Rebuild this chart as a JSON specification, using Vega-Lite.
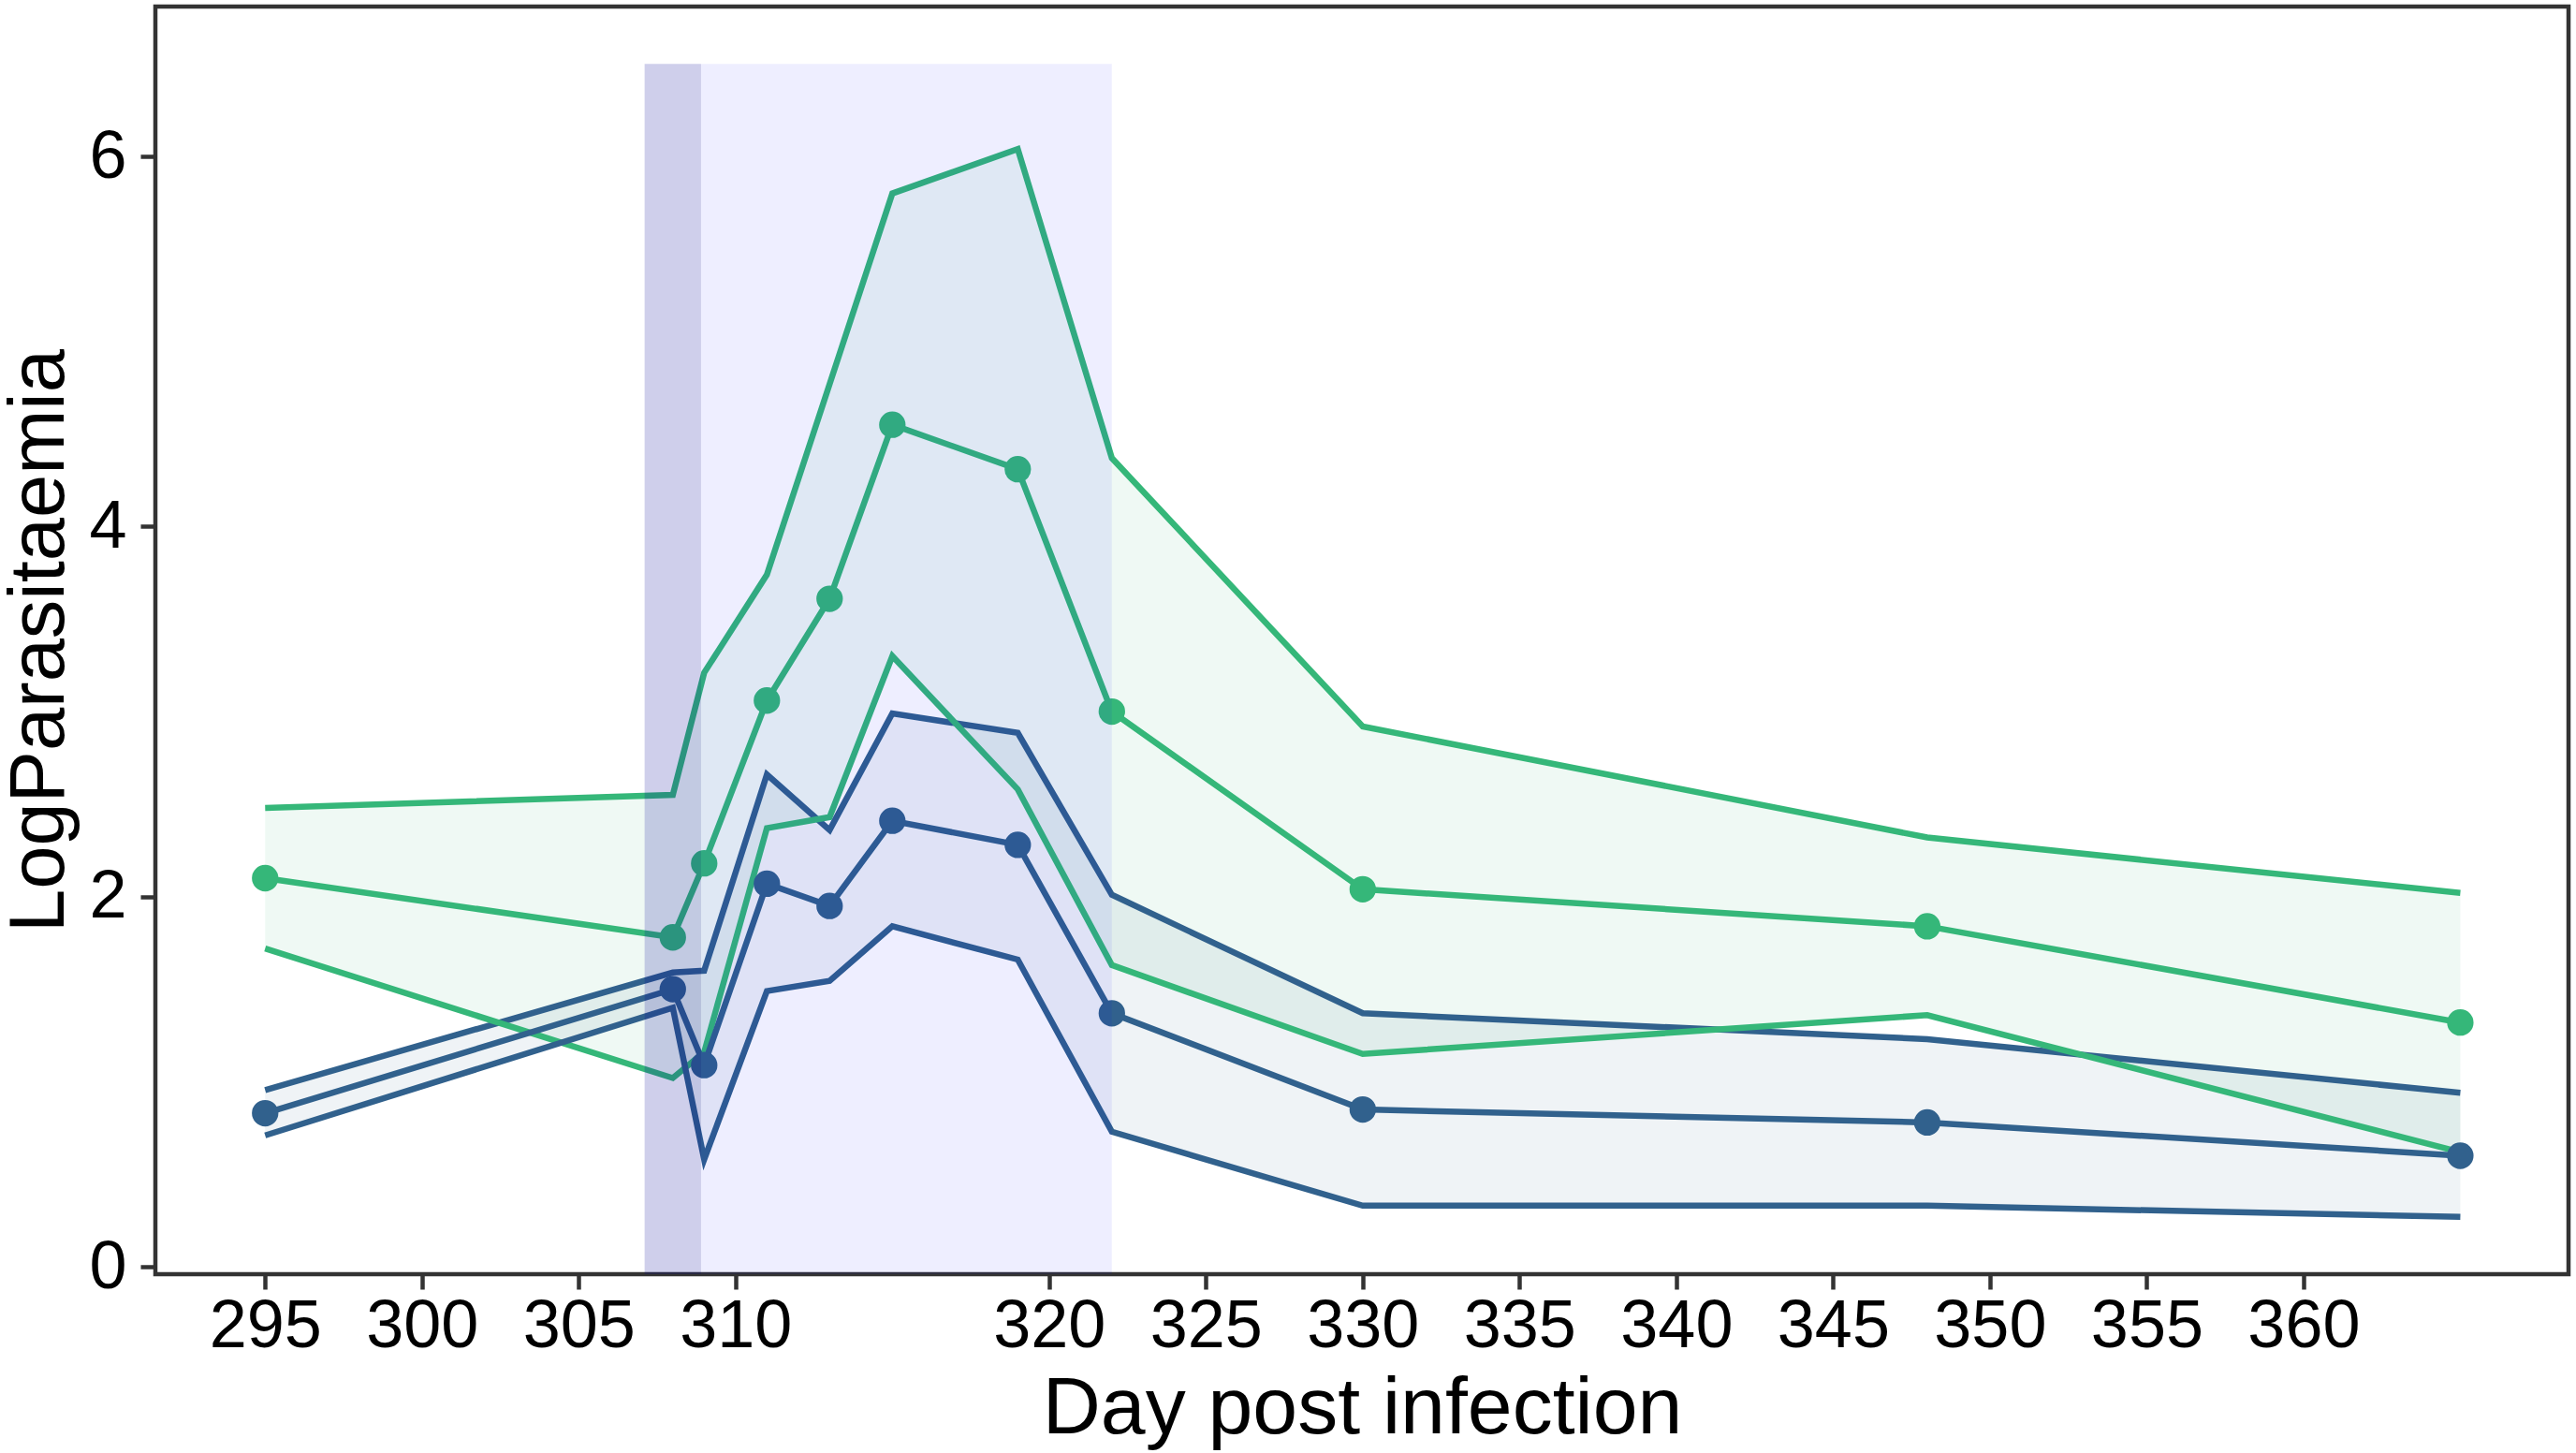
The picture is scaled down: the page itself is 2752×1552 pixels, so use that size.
{
  "$schema": "https://vega.github.io/schema/vega-lite/v6.json",
  "autosize": {"type": "none"},
  "padding": {"left": 166, "top": 7, "right": 8, "bottom": 191},
  "width": 2578,
  "height": 1354,
  "background": "white",
  "config": {
    "font": "Liberation Sans",
    "view": {"stroke": "#333333", "strokeWidth": 4.5},
    "axis": {
      "grid": false,
      "domain": false,
      "tickColor": "#333333",
      "tickWidth": 4.5,
      "tickSize": 16,
      "labelFont": "Liberation Sans",
      "labelFontSize": 72,
      "labelColor": "black",
      "titleFont": "Liberation Sans",
      "titleFontWeight": "normal",
      "titleColor": "black"
    }
  },
  "datasets": {
    "parasites": [
      {"group": "G", "day": 295, "mean": 2.10, "lower": 1.72, "upper": 2.48},
      {"group": "G", "day": 308, "mean": 1.78, "lower": 1.02, "upper": 2.55},
      {"group": "G", "day": 309, "mean": 2.18, "lower": 1.16, "upper": 3.21},
      {"group": "G", "day": 311, "mean": 3.06, "lower": 2.37, "upper": 3.74},
      {"group": "G", "day": 313, "mean": 3.61, "lower": 2.43, "upper": 4.77},
      {"group": "G", "day": 315, "mean": 4.55, "lower": 3.30, "upper": 5.80},
      {"group": "G", "day": 319, "mean": 4.31, "lower": 2.58, "upper": 6.04},
      {"group": "G", "day": 322, "mean": 3.00, "lower": 1.63, "upper": 4.37},
      {"group": "G", "day": 330, "mean": 2.04, "lower": 1.15, "upper": 2.92},
      {"group": "G", "day": 348, "mean": 1.84, "lower": 1.36, "upper": 2.32},
      {"group": "G", "day": 365, "mean": 1.32, "lower": 0.62, "upper": 2.02},
      {"group": "B", "day": 295, "mean": 0.83, "lower": 0.71, "upper": 0.955},
      {"group": "B", "day": 308, "mean": 1.50, "lower": 1.40, "upper": 1.59},
      {"group": "B", "day": 309, "mean": 1.09, "lower": 0.58, "upper": 1.60},
      {"group": "B", "day": 311, "mean": 2.07, "lower": 1.49, "upper": 2.66},
      {"group": "B", "day": 313, "mean": 1.95, "lower": 1.545, "upper": 2.36},
      {"group": "B", "day": 315, "mean": 2.41, "lower": 1.84, "upper": 2.99},
      {"group": "B", "day": 319, "mean": 2.28, "lower": 1.66, "upper": 2.885},
      {"group": "B", "day": 322, "mean": 1.37, "lower": 0.73, "upper": 2.01},
      {"group": "B", "day": 330, "mean": 0.85, "lower": 0.33, "upper": 1.37},
      {"group": "B", "day": 348, "mean": 0.78, "lower": 0.33, "upper": 1.23},
      {"group": "B", "day": 365, "mean": 0.60, "lower": 0.27, "upper": 0.94}
    ],
    "phases": [
      {"phase": "early", "start": 307.1, "end": 308.9, "top": 6.5, "bottom": -0.04},
      {"phase": "late", "start": 308.9, "end": 322, "top": 6.5, "bottom": -0.04}
    ]
  },
  "data": {"name": "parasites"},
  "encoding": {
    "x": {
      "field": "day",
      "type": "quantitative",
      "title": "Day post infection",
      "scale": {"domain": [291.5, 368.45], "nice": false, "zero": false},
      "axis": {
        "values": [295, 300, 305, 310, 320, 325, 330, 335, 340, 345, 350, 355, 360],
        "labelPadding": 4,
        "titleFontSize": 86,
        "titlePadding": 10
      }
    },
    "color": {
      "field": "group",
      "type": "nominal",
      "legend": null,
      "scale": {"domain": ["G", "B"], "range": ["#35B779", "#31618D"]}
    }
  },
  "layer": [
    {
      "mark": {"type": "area", "fillOpacity": 0.08},
      "encoding": {
        "y": {
          "field": "lower",
          "type": "quantitative",
          "title": "LogParasitaemia",
          "scale": {"domain": [-0.04, 6.81], "nice": false, "zero": false},
          "axis": {
            "values": [0, 2, 4, 6],
            "format": "d",
            "labelPadding": 15,
            "titleFontSize": 83,
            "titlePadding": 10
          }
        },
        "y2": {"field": "upper"}
      }
    },
    {
      "mark": {"type": "line", "strokeWidth": 6.5},
      "encoding": {"y": {"field": "upper", "type": "quantitative"}}
    },
    {
      "mark": {"type": "line", "strokeWidth": 6.5},
      "encoding": {"y": {"field": "lower", "type": "quantitative"}}
    },
    {
      "mark": {"type": "line", "strokeWidth": 6.5},
      "encoding": {"y": {"field": "mean", "type": "quantitative"}}
    },
    {
      "mark": {"type": "point", "filled": true, "opacity": 1, "size": 800},
      "encoding": {"y": {"field": "mean", "type": "quantitative"}}
    },
    {
      "data": {"name": "phases"},
      "mark": {"type": "rect"},
      "encoding": {
        "x": {"field": "start", "type": "quantitative"},
        "x2": {"field": "end"},
        "y": {"field": "top", "type": "quantitative"},
        "y2": {"field": "bottom"},
        "color": {"value": null},
        "fill": {
          "field": "phase",
          "type": "nominal",
          "legend": null,
          "scale": {"domain": ["early", "late"], "range": ["#000096", "#0000FF"]}
        },
        "fillOpacity": {
          "field": "phase",
          "type": "nominal",
          "legend": null,
          "scale": {"domain": ["early", "late"], "range": [0.187, 0.067]}
        }
      }
    }
  ]
}
